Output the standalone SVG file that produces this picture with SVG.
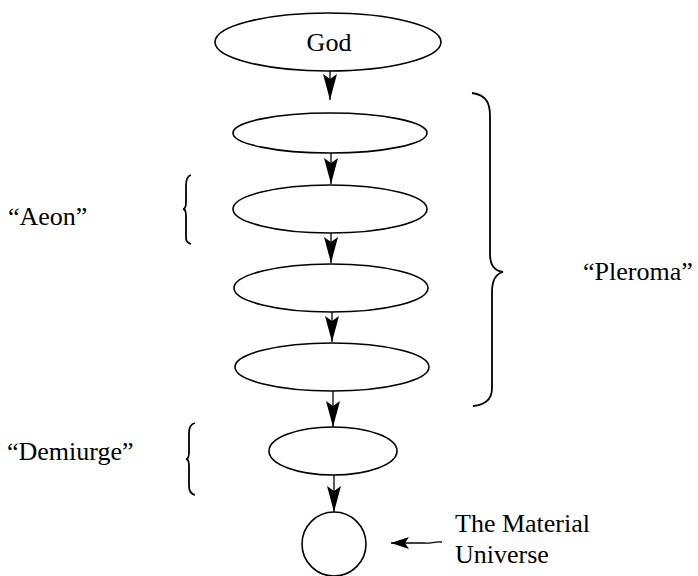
<svg xmlns="http://www.w3.org/2000/svg" width="698" height="576" viewBox="0 0 698 576">
<style>
.n{fill:#fff;stroke:#000;stroke-width:1.6}
.t{font-size:26px;fill:#000}
.c{stroke:#000;stroke-width:1.3;fill:none}
.b{stroke:#000;stroke-width:1.8;fill:none}
</style>
<defs>
<marker id="ah" markerUnits="userSpaceOnUse" markerWidth="28" markerHeight="16" refX="26" refY="8" orient="auto">
<path d="M0,1 L26,8 L0,15 L5,8 z" fill="#000"/>
</marker>
<marker id="ah2" markerUnits="userSpaceOnUse" markerWidth="20" markerHeight="14" refX="18" refY="7" orient="auto">
<path d="M0,1 L18,7 L0,13 L4,7 z" fill="#000"/>
</marker>
</defs>
<rect width="698" height="576" fill="#fff"/>
<g id="connectors">
<line class="c" x1="330" y1="71" x2="330" y2="100" marker-end="url(#ah)"/>
<line class="c" x1="331" y1="153" x2="331" y2="184" marker-end="url(#ah)"/>
<line class="c" x1="331" y1="233" x2="331" y2="263" marker-end="url(#ah)"/>
<line class="c" x1="332" y1="312" x2="332" y2="342" marker-end="url(#ah)"/>
<line class="c" x1="333" y1="391" x2="333" y2="427" marker-end="url(#ah)"/>
<line class="c" x1="334" y1="475" x2="334" y2="512" marker-end="url(#ah)"/>
<path class="c" d="M442,542 C435,541 430,544 424,543 L391,543" marker-end="url(#ah2)"/>
</g>
<g id="god"><ellipse class="n" cx="328" cy="42" rx="113" ry="29"/><text class="t" font-family="Liberation Serif, serif" x="329" y="51" text-anchor="middle">God</text></g>
<g id="aeon1"><ellipse class="n" cx="330" cy="133" rx="97" ry="20"/></g>
<g id="aeon2"><ellipse class="n" cx="330" cy="209" rx="97" ry="24"/></g>
<g id="aeon3"><ellipse class="n" cx="331" cy="288" rx="97" ry="24"/></g>
<g id="aeon4"><ellipse class="n" cx="332" cy="367" rx="97" ry="24"/></g>
<g id="demiurge"><ellipse class="n" cx="333" cy="451" rx="64" ry="24"/></g>
<g id="universe"><circle class="n" cx="334" cy="544" r="32"/></g>
<g id="aeon-label">
<path class="b" d="M191,175 C187,176 186,180 186,186 L186,202 C186,206 185,209 183,209 C185,209 186,212 186,216 L186,238 C186,242 188,243 191,244"/>
<text class="t" font-family="Liberation Serif, serif" x="8" y="225">“Aeon”</text>
</g>
<g id="pleroma-label">
<path class="b" d="M472,93 C487,95 490,104 490,116 L490,254 C490,265 495,271 503,272 C495,274 492,281 492,292 L492,388 C492,400 485,405 473,406"/>
<text class="t" font-family="Liberation Serif, serif" x="583" y="280">“Pleroma”</text>
</g>
<g id="demiurge-label">
<path class="b" d="M195,423 C191,424 189,428 189,433 L189,452 C189,456 188,459 186,459 C188,459 189,462 189,466 L189,486 C189,491 191,494 195,495"/>
<text class="t" font-family="Liberation Serif, serif" x="7" y="460">“Demiurge”</text>
</g>
<g id="material-label">
<text class="t" font-family="Liberation Serif, serif" x="455" y="532">The Material</text>
<text class="t" font-family="Liberation Serif, serif" x="455" y="563">Universe</text>
</g>
</svg>
